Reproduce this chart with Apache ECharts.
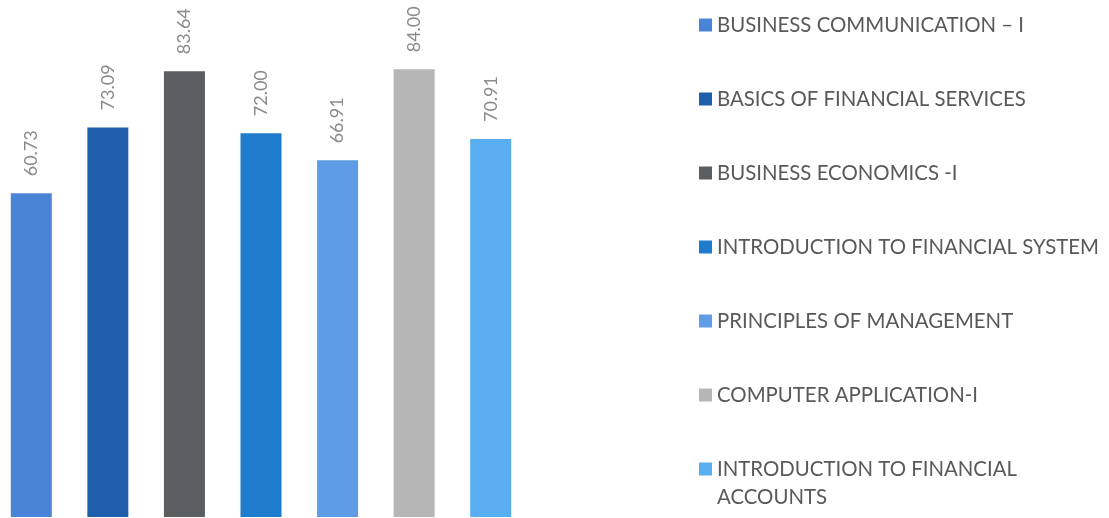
<!DOCTYPE html>
<html>
<head>
<meta charset="utf-8">
<script src="https://cdn.jsdelivr.net/npm/echarts@6/dist/echarts.min.js"></script>
<style>
html,body{margin:0;padding:0;background:#ffffff;}
#chart{width:1109px;height:518px;}
</style>
</head>
<body>
<div id="chart"></div>
<script>
const subjects = [
  'BUSINESS COMMUNICATION – I',
  'BASICS OF FINANCIAL SERVICES',
  'BUSINESS ECONOMICS -I',
  'INTRODUCTION TO FINANCIAL SYSTEM',
  'PRINCIPLES OF MANAGEMENT',
  'COMPUTER APPLICATION-I',
  'INTRODUCTION TO FINANCIAL\nACCOUNTS'
];
const scores = [60.73, 73.09, 83.64, 72.00, 66.91, 84.00, 70.91];
const colors = ['#4a84d6', '#1f5eab', '#5a5e60', '#1f7bcb', '#5e9de6', '#b6b6b6', '#58aeef'];

const series = subjects.map((name, i) => ({
  name: name,
  type: 'bar',
  stack: 'all',
  barWidth: 41,
  itemStyle: { color: colors[i] },
  label: {
    show: true,
    position: 'top',
    rotate: 90,
    align: 'left',
    verticalAlign: 'middle',
    distance: 17,
    color: '#8a8a8a',
    fontFamily: 'Lato',
    fontSize: 18,
    formatter: p => p.value.toFixed(2)
  },
  data: scores.map((v, j) => (j === i ? v : '-'))
}));

const legendText = {
  fontFamily: 'Lato',
  fontSize: 20.4,
  color: '#595959',
  lineHeight: 28
};

const chart = echarts.init(document.getElementById('chart'), null, { renderer: 'canvas' });
chart.setOption({
  animation: false,
  backgroundColor: '#ffffff',
  grid: { left: -7, right: 580, top: -16, bottom: 1, outerBoundsMode: 'none', containLabel: false },
  xAxis: {
    type: 'category',
    data: subjects,
    show: false
  },
  yAxis: {
    type: 'value',
    min: 0,
    max: 100,
    show: false
  },
  legend: [
    {
      orient: 'vertical',
      left: 699,
      top: 11,
      padding: 0,
      itemWidth: 13,
      itemHeight: 13,
      itemGap: 46,
      icon: 'rect',
      data: subjects.slice(0, 6),
      textStyle: legendText
    },
    {
      orient: 'vertical',
      left: 699,
      top: 427,
      padding: 0,
      itemWidth: 13,
      itemHeight: 13,
      icon: 'rect',
      data: [subjects[6]],
      formatter: name => '\n' + name,
      textStyle: legendText
    }
  ],
  series: series
});
</script>
</body>
</html>
